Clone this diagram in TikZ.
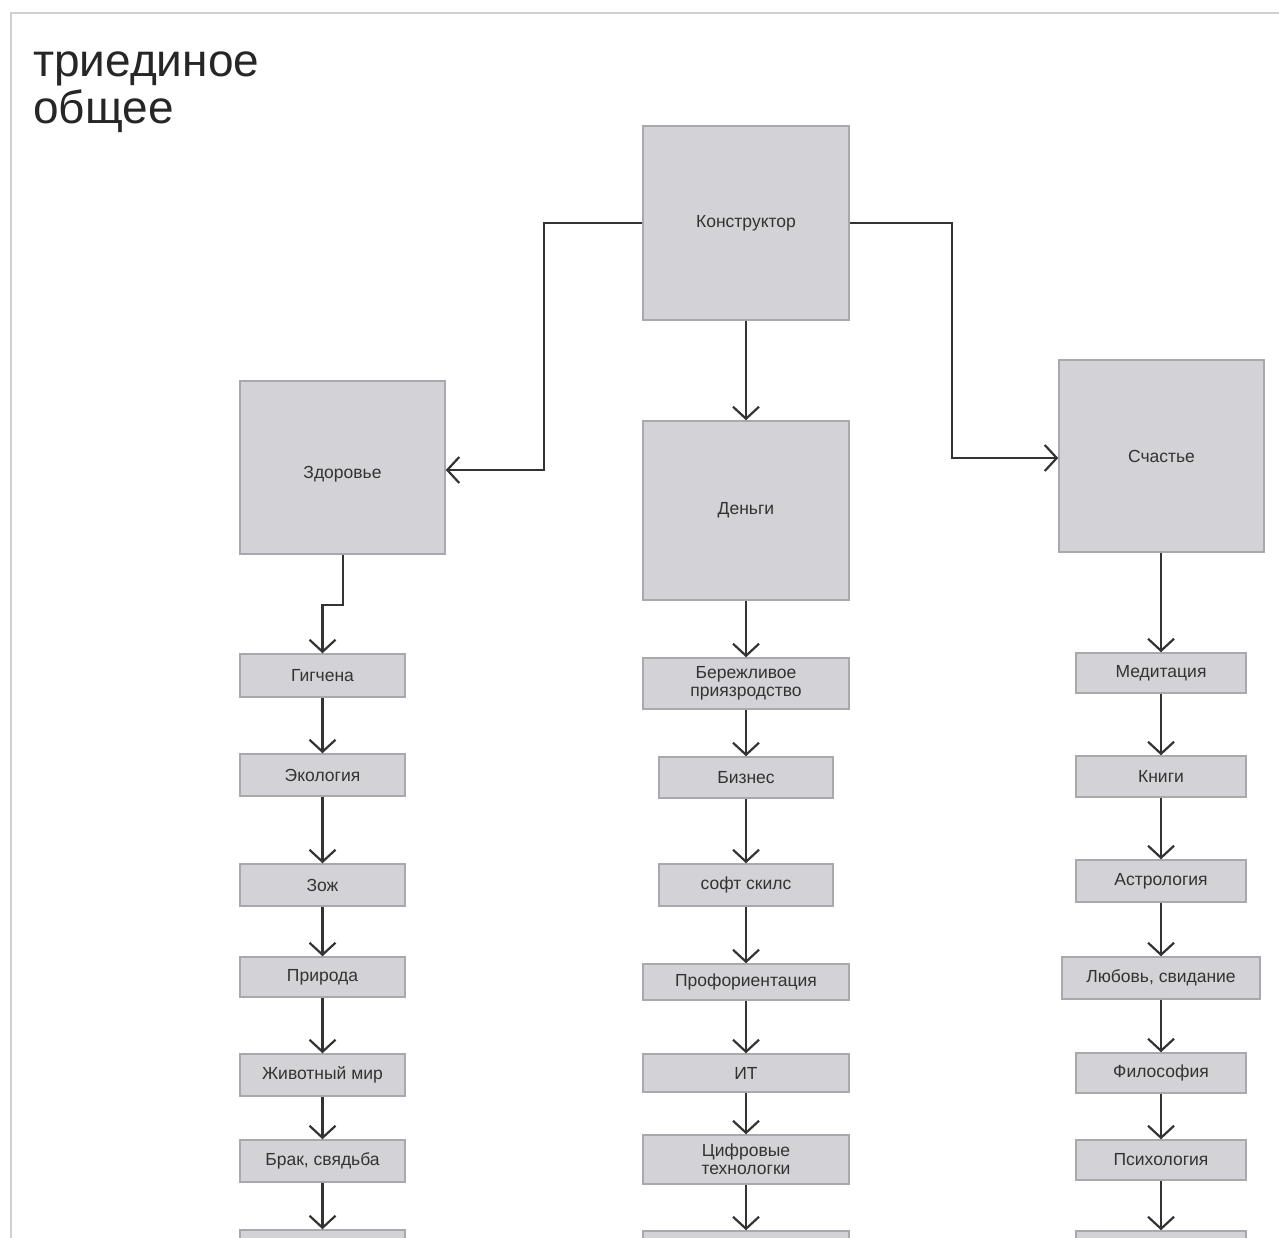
\documentclass[tikz,border=0pt]{standalone}
\usepackage{fontspec}
\setmainfont{Liberation Sans}
\usetikzlibrary{arrows.meta}
\definecolor{boxfill}{HTML}{D3D3D7}
\definecolor{boxline}{HTML}{A9A9AD}
\definecolor{ink}{HTML}{333333}
\definecolor{frame}{HTML}{D0D0D0}
\tikzset{
  box/.style={draw=boxline, line width=1.5pt, fill=boxfill, inner sep=0pt, align=center,
    text=ink, font=\fontsize{17.5}{19}\selectfont},
  conn/.style={draw=ink, line width=2.2pt, -{Straight Barb[length=12pt,width=26pt,line width=2.2pt]}},
}
\begin{document}
\begin{tikzpicture}[x=1pt,y=-1pt]
\useasboundingbox (0,0) rectangle (1279,1238);
\clip (0,0) rectangle (1279,1238);
\fill[white] (0,0) rectangle (1279,1238);
\draw[frame, line width=2pt] (11,1238) -- (11,13) -- (1279,13);
\node[anchor=north west, align=left, inner sep=0pt, text=black!85,
  font=\fontsize{46}{47}\selectfont] (title) at (33,52) {триединое\\общее};

% big boxes
\node[box, minimum width=206pt, minimum height=194pt] (kon) at (746,223) {Конструктор};
\node[box, minimum width=205pt, minimum height=173pt] (zdr) at (342.5,467.5) {\raisebox{-10.5pt}[0pt][0pt]{Здоровье}};
\node[box, minimum width=206pt, minimum height=179pt] (den) at (746,510.5) {Деньги};
\node[box, minimum width=205pt, minimum height=192pt] (sch) at (1161.5,456) {Счастье};

% left column
\node[box, minimum width=165pt, minimum height=43pt] (l1) at (322.5,675.5) {Гигчена};
\node[box, minimum width=165pt, minimum height=42pt] (l2) at (322.5,775) {Экология};
\node[box, minimum width=165pt, minimum height=42pt] (l3) at (322.5,885) {Зож};
\node[box, minimum width=165pt, minimum height=40pt] (l4) at (322.5,977) {Природа};
\node[box, minimum width=165pt, minimum height=42pt] (l5) at (322.5,1075) {Животный мир};
\node[box, minimum width=165pt, minimum height=42pt] (l6) at (322.5,1161) {Брак, свядьба};
\node[box, minimum width=165pt, minimum height=42pt] (l7) at (322.5,1251) {};

% middle column
\node[box, minimum width=206pt, minimum height=51pt] (m1) at (746,683.5) {Бережливое\\[-1pt]приязродство};
\node[box, minimum width=174pt, minimum height=41pt] (m2) at (746,777.5) {Бизнес};
\node[box, minimum width=174pt, minimum height=42pt] (m3) at (746,885) {софт скилс};
\node[box, minimum width=206pt, minimum height=36pt] (m4) at (746,982) {Профориентация};
\node[box, minimum width=206pt, minimum height=38pt] (m5) at (746,1073) {ИТ};
\node[box, minimum width=206pt, minimum height=49pt] (m6) at (746,1159.5) {Цифровые\\[-1pt]технологки};
\node[box, minimum width=206pt, minimum height=45pt] (m7) at (746,1253.5) {};

% right column
\node[box, minimum width=170pt, minimum height=40pt] (r1) at (1161,673) {Медитация};
\node[box, minimum width=170pt, minimum height=41pt] (r2) at (1161,776.5) {Книги};
\node[box, minimum width=170pt, minimum height=42pt] (r3) at (1161,881) {Астрология};
\node[box, minimum width=198pt, minimum height=42pt] (r4) at (1161,978) {Любовь, свидание};
\node[box, minimum width=170pt, minimum height=40pt] (r5) at (1161,1073) {Философия};
\node[box, minimum width=170pt, minimum height=40pt] (r6) at (1161,1160) {Психология};
\node[box, minimum width=170pt, minimum height=42pt] (r7) at (1161,1252) {};

% connectors from top
\draw[conn] (kon.west) -- (544,223) -- (544,470) -- (zdr.east |- 0,470);
\draw[conn] (kon.east) -- (952,223) -- (952,458) -- (sch.west |- 0,458);
\draw[conn] (kon.south) -- (den.north);
\draw[conn] (zdr.south -| 343,0) -- (343,605) -- (322.5,605) -- (l1.north);
\draw[conn] (den.south) -- (m1.north);
\draw[conn] (sch.south -| 1161,0) -- (r1.north);

% chains
\foreach \a/\b in {l1/l2,l2/l3,l3/l4,l4/l5,l5/l6,l6/l7,
                   m1/m2,m2/m3,m3/m4,m4/m5,m5/m6,m6/m7,
                   r1/r2,r2/r3,r3/r4,r4/r5,r5/r6,r6/r7}
  \draw[conn] (\a.south) -- (\b.north);
\end{tikzpicture}
\end{document}
